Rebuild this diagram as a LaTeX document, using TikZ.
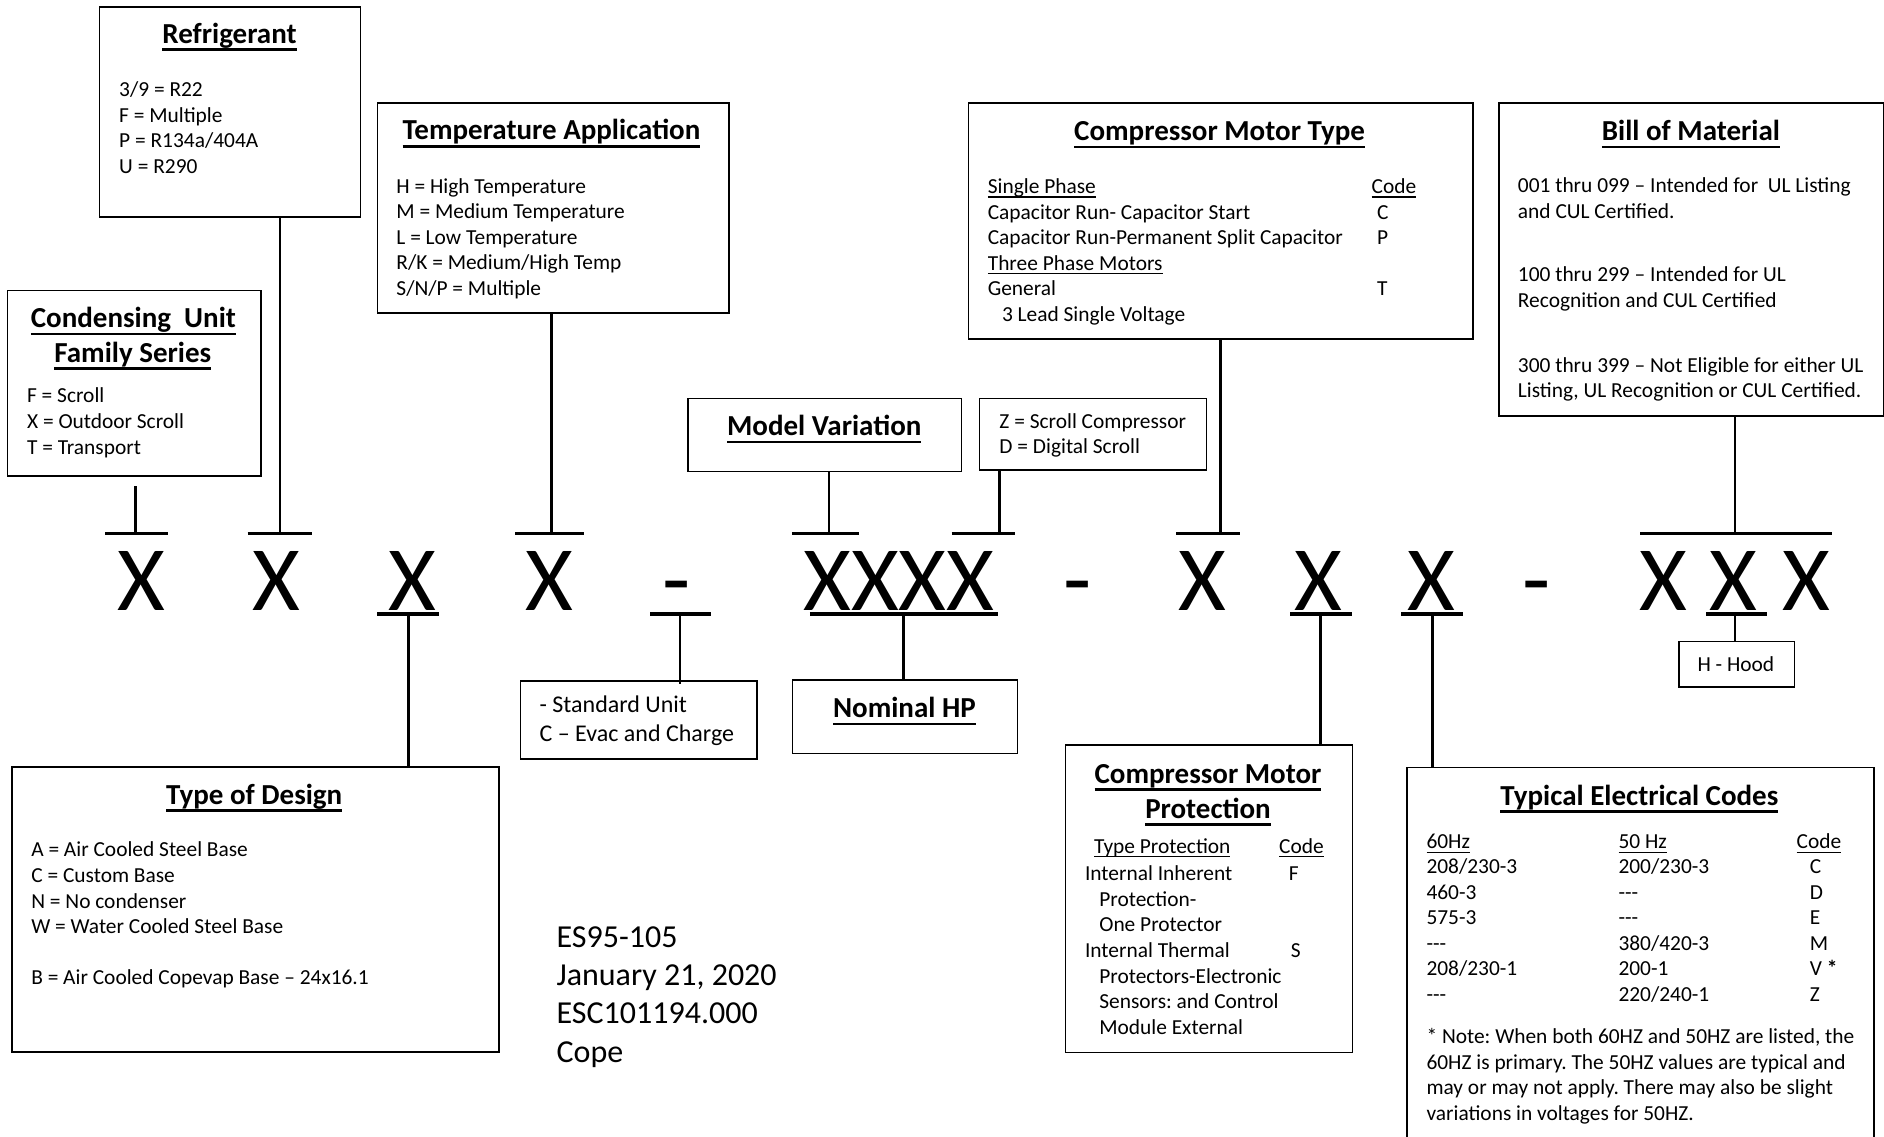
\documentclass[tikz,border=0pt]{standalone}
\usepackage{fontspec}
\setmainfont{Carlito}
\frenchspacing
\newcommand{\pu}{0.6008pt}
\newcommand{\titleul}[1]{\setbox0=\hbox{#1}\rlap{\vrule height -2.5pt depth 3.8pt width \wd0}\box0}
\newcommand{\bodyul}[1]{\setbox0=\hbox{#1}\rlap{\vrule height -1.4pt depth 2pt width \wd0}\box0}
\tikzset{
  infobox/.style={draw, line width=0.8pt, anchor=north west, inner sep=0pt},
  boxtitle/.style={anchor=base, yshift=-4.6pt, inner sep=0pt, font=\fontsize{14.5}{17}\selectfont\bfseries},
  boxline/.style={anchor=base west, yshift=-3.4pt, inner sep=0pt, font=\fontsize{10.7}{12.8}\selectfont},
  bigline/.style={anchor=base west, yshift=-3.9pt, inner sep=0pt, font=\fontsize{12}{14.4}\selectfont},
  footline/.style={anchor=base west, yshift=-5.2pt, inner sep=0pt, font=\fontsize{16}{19}\selectfont},
  bigletter/.style={anchor=base, inner sep=0pt, font=\fontsize{46}{50}\selectfont},
  conn/.style={line width=1.3pt},
  bar/.style={line width=1.8pt},
}
\begin{document}
\begin{tikzpicture}[x=0.6008pt, y=-0.6008pt]
\useasboundingbox (0,0) rectangle (1568,946);
\clip (0,0) rectangle (1568,946);

%model number
\node[bigletter] (x1) at (117.4,507.7) {X};
\node[bigletter] (x2) at (230,507.7) {X};
\node[bigletter] (x3) at (343,507.7) {X};
\node[bigletter] (x4) at (457,507.7) {X};
\node[bigletter] (d1) at (563,507.7) {-};
\node[bigletter] (xn) at (748,507.7) {XXXX};
\node[bigletter] (d2) at (897,507.7) {-};
\node[bigletter] (x5) at (1001,507.7) {X};
\node[bigletter] (x6) at (1097,507.7) {X};
\node[bigletter] (x7) at (1191,507.7) {X};
\node[bigletter] (d3) at (1279,507.7) {-};
\node[bigletter] (b1) at (1384,507.7) {X};
\node[bigletter] (b2) at (1443,507.7) {X};
\node[bigletter] (b3) at (1503,507.7) {X};

%bars above
\draw[bar] (87.7,444) -- (139.7,444);
\draw[bar] (206,444) -- (260,444);
\draw[bar] (429,444) -- (486,444);
\draw[bar] (659,444) -- (715,444);
\draw[bar] (792,444) -- (845,444);
\draw[bar] (979,444) -- (1032,444);
\draw[bar] (1365,444) -- (1525,444);
\coordinate (k1) at (113,444);
\coordinate (k2) at (233,444);
\coordinate (k4) at (459,444);
\coordinate (k6) at (690,444);
\coordinate (k7) at (832,444);
\coordinate (k8) at (1016,444);
\coordinate (k9) at (1444,444);

%bars below
\draw[bar] (314,511) -- (365,511);
\draw[bar] (541,511) -- (592,511);
\draw[bar] (674,511) -- (831,511);
\draw[bar] (1074,511) -- (1125,511);
\draw[bar] (1166,511) -- (1218,511);
\draw[bar] (1420,511) -- (1471,511);
\coordinate (m3) at (340,511);
\coordinate (md) at (566,511);
\coordinate (mn) at (752,511);
\coordinate (m6) at (1099,511);
\coordinate (m7) at (1192,511);
\coordinate (mb) at (1444,511);

%refrigerant
\node[infobox, minimum width=217.5*\pu, minimum height=175*\pu] (refr) at (82,5) {};
\node[boxtitle] (refr-t) at (191,28.3) {\titleul{Refrigerant}};
\foreach \t [count=\i from 0] in {3/9 = R22, F = Multiple, P = R134a/404A, U = R290}
  \node[boxline] (refr-\i) at (98.9,74.9+21.3*\i) {\t};

%condensing unit
\node[infobox, minimum width=211*\pu, minimum height=154.3*\pu] (cond) at (5.6,241) {};
\node[boxtitle] (cond-t) at (111,265) {\titleul{Condensing\ \ Unit}};
\node[boxtitle] (cond-u) at (110.5,294) {\titleul{Family Series}};
\foreach \t [count=\i from 0] in {F = Scroll, X = Outdoor Scroll, T = Transport}
  \node[boxline] (cond-\i) at (22.2,329.6+21.4*\i) {\t};
\coordinate (c1) at (113,404.5);

%temperature application
\node[infobox, minimum width=292.5*\pu, minimum height=174.6*\pu] (temp) at (313.5,85) {};
\node[boxtitle] (temp-t) at (459,108.8) {\titleul{Temperature Application}};
\foreach \t [count=\i from 0] in {H = High Temperature, M = Medium Temperature, L = Low Temperature, R/K = Medium/High Temp, S/N/P = Multiple}
  \node[boxline] (temp-\i) at (329.6,155.4+21.15*\i) {\t};

%model variation
\node[infobox, minimum width=227.6*\pu, minimum height=60.7*\pu] (mvar) at (572,331) {};
\node[boxtitle] (mvar-t) at (686,355.1) {\titleul{Model Variation}};

%compressor
\node[infobox, minimum width=189*\pu, minimum height=59.3*\pu] (zd) at (814.5,331) {};
\node[boxline] (zd-0) at (831.5,351) {Z = Scroll Compressor};
\node[boxline] (zd-1) at (831.5,371.8) {D = Digital Scroll};

%motor type
\node[infobox, minimum width=419.7*\pu, minimum height=196.4*\pu] (mtype) at (805.3,85.2) {};
\node[boxtitle] (mtype-t) at (1015,109.6) {\titleul{Compressor Motor Type}};
\foreach \t [count=\i from 0] in {\bodyul{Single Phase}, Capacitor Run- Capacitor Start, Capacitor Run-Permanent Split Capacitor, \bodyul{Three Phase Motors}, General}
  \node[boxline] (mtype-\i) at (821.8,155.4+21.25*\i) {\t};
\node[boxline] (mtype-5) at (833.6,261.6) {3 Lead Single Voltage};
\node[boxline] (mtype-c) at (1141.3,155.4) {\bodyul{Code}};
\node[boxline] (mtype-c1) at (1145.7,177) {C};
\node[boxline] (mtype-c2) at (1145.7,197.8) {P};
\node[boxline] (mtype-c3) at (1145.7,240.5) {T};

%bill of material
\node[infobox, minimum width=320.2*\pu, minimum height=260.4*\pu] (bom) at (1247,85.2) {};
\node[boxtitle] (bom-t) at (1407.3,109.6) {\titleul{Bill of Material}};
\foreach \y/\t [count=\i] in {154.5/{001 thru 099 – Intended for\ \ UL Listing}, 176.2/{and CUL Certified.}, 229/{100 thru 299 – Intended for UL}, 250.3/{Recognition and CUL Certified}, 304/{300 thru 399 – Not Eligible for either UL}, 325.5/{Listing, UL Recognition or CUL Certified.}}
  \node[boxline] (bom-\i) at (1263,\y) {\t};

%type of design
\node[infobox, minimum width=405*\pu, minimum height=237.5*\pu] (tod) at (9.5,637.5) {};
\node[boxtitle] (tod-t) at (211.6,661.7) {\titleul{Type of Design}};
\foreach \y/\t [count=\i] in {707.4/{A = Air Cooled Steel Base}, 728.8/{C = Custom Base}, 750.2/{N = No condenser}, 771.5/{W = Water Cooled Steel Base}, 813.5/{B = Air Cooled Copevap Base – 24x16.1}}
  \node[boxline] (tod-\i) at (25.7,\y) {\t};

%standard unit
\node[infobox, minimum width=196.8*\pu, minimum height=65.2*\pu] (std) at (432.5,566) {};
\node[bigline] (std-0) at (448.8,586.8) {- Standard Unit};
\node[bigline] (std-1) at (448.8,610.9) {C – Evac and Charge};

%nominal hp
\node[infobox, minimum width=187.3*\pu, minimum height=61*\pu] (nhp) at (659,565.4) {};
\node[boxtitle] (nhp-t) at (752.7,589.5) {\titleul{Nominal HP}};

%motor protection
\node[infobox, minimum width=239*\pu, minimum height=256*\pu] (prot) at (886,619.3) {};
\node[boxtitle] (prot-t) at (1005.4,644.1) {\titleul{Compressor Motor}};
\node[boxtitle] (prot-u) at (1005.4,673.4) {\titleul{Protection}};
\node[boxline] (prot-h) at (910.2,704.5) {\bodyul{Type Protection}};
\node[boxline] (prot-c) at (1064.3,704.5) {\bodyul{Code}};
\node[boxline] (prot-1) at (902.7,726.9) {Internal Inherent};
\node[boxline] (prot-2) at (914.6,748.6) {Protection-};
\node[boxline] (prot-3) at (914.6,769.9) {One Protector};
\node[boxline] (prot-4) at (902.7,791.6) {Internal Thermal};
\node[boxline] (prot-5) at (914.6,812.8) {Protectors-Electronic};
\node[boxline] (prot-6) at (914.6,833.7) {Sensors: and Control};
\node[boxline] (prot-7) at (914.6,854.9) {Module External};
\node[boxline] (prot-f) at (1072.3,726.9) {F};
\node[boxline] (prot-s) at (1074,791.6) {S};

%electrical codes
\node[infobox, minimum width=388.7*\pu, minimum height=322*\pu] (elec) at (1170.5,638) {};
\node[boxtitle] (elec-t) at (1364.4,662.4) {\titleul{Typical Electrical Codes}};
\node[boxline] (elec-h1) at (1186.9,700.7) {\bodyul{60Hz}};
\node[boxline] (elec-h2) at (1346.7,700.7) {\bodyul{50 Hz}};
\node[boxline] (elec-h3) at (1495,700.7) {\bodyul{Code}};
\foreach \t [count=\i from 0] in {208/230-3, 460-3, 575-3, -{}-{}-, 208/230-1, -{}-{}-}
  \node[boxline] (elec-a\i) at (1186.9,721.3+21.3*\i) {\t};
\foreach \t [count=\i from 0] in {200/230-3, -{}-{}-, -{}-{}-, 380/420-3, 200-1, 220/240-1}
  \node[boxline] (elec-b\i) at (1346.7,721.3+21.3*\i) {\t};
\foreach \t [count=\i from 0] in {C, D, E, M, V \textbf{*}, Z}
  \node[boxline] (elec-c\i) at (1506,721.3+21.3*\i) {\t};
\foreach \t [count=\i from 0] in {{* Note: When both 60HZ and 50HZ are listed, the}, {60HZ is primary. The 50HZ values are typical and}, {may or may not apply. There may also be slight}, {variations in voltages for 50HZ.}}
  \node[boxline] (elec-n\i) at (1186.9,862.8+21.3*\i) {\t};

%hood
\node[infobox, minimum width=96.1*\pu, minimum height=37.8*\pu] (hood) at (1396.7,533.2) {};
\node[boxline, anchor=base] (hood-t) at (1444.7,552.9) {H - Hood};

%connectors
\draw[conn] (c1) -- (k1);
\draw[conn] (refr.south -| k2) -- (k2);
\draw[conn] (temp.south -| k4) -- (k4);
\draw[conn] (mvar.south -| k6) -- (k6);
\draw[conn] (zd.south -| k7) -- (k7);
\draw[conn] (mtype.south -| k8) -- (k8);
\draw[conn] (bom.south -| k9) -- (k9);
\draw[conn] (m3) -- (tod.north -| m3);
\draw[conn] (md) -- ([yshift=-2pt]std.north -| md);
\draw[conn] (mn) -- (nhp.north -| mn);
\draw[conn] (m6) -- (prot.north -| m6);
\draw[conn] (m7) -- (elec.north -| m7);
\draw[conn] (mb) -- (hood.north -| mb);

%document info
\foreach \t [count=\i from 0] in {ES95-105, {January 21, 2020}, ESC101194.000, Cope}
  \node[footline] (doc-\i) at (462.9,779.6+31.9*\i) {\t};

\end{tikzpicture}
\end{document}
